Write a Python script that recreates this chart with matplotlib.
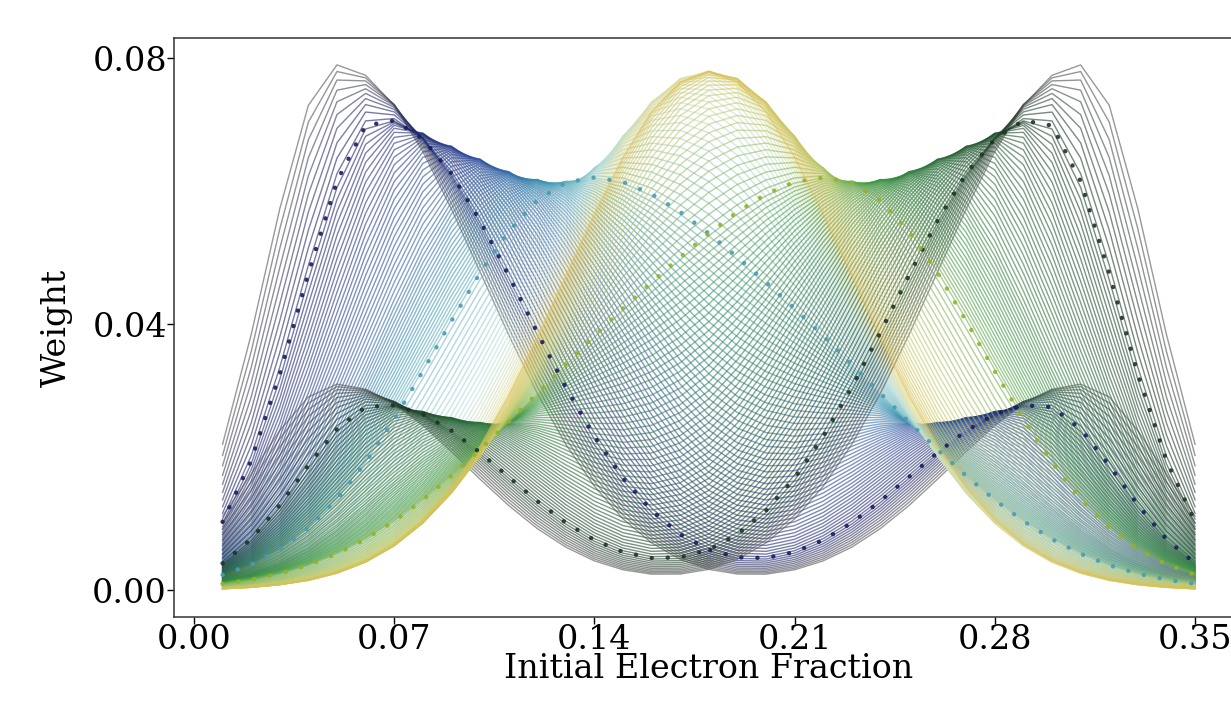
import numpy as np
import matplotlib
matplotlib.use("Agg")
import matplotlib.pyplot as plt
from matplotlib.colors import LinearSegmentedColormap

# electron-fraction grid
ye = np.round(np.arange(1, 36) * 0.01, 2)

# shape of the left-heavy family at a few stages
# (the right-heavy family is its mirror image about Ye = 0.18)
key_t = [0.0, 0.12, 0.45, 0.70, 1.0]
tall_centre = [0.050, 0.065, 0.105, 0.132, 0.180]
tall_height = [0.079, 0.071, 0.063, 0.059, 0.052]
tall_sig_out = [0.025, 0.028, 0.040, 0.048, 0.050]
tall_sig_in = [0.050, 0.050, 0.052, 0.055, 0.050]
small_centre = [0.310, 0.295, 0.255, 0.225, 0.180]
small_height = [0.031, 0.028, 0.024, 0.022, 0.026]
small_sig_out = [0.028, 0.028, 0.040, 0.050, 0.050]
small_sig_in = [0.045, 0.045, 0.045, 0.045, 0.050]

dotted_t = [0.12, 0.70]
n_lines = 80

stops = [0.0, 0.1, 0.35, 0.6, 0.85, 1.0]
colors_left = ["#555555", "#1c2166", "#2f4f9e", "#3a97b2", "#b9e0dc", "#e9dc8e"]
colors_right = ["#555555", "#1c3a28", "#2b6e3c", "#3f9a45", "#c4cc6a", "#d9c158"]
dot_left = ["#1a1e5c", "#4a9bb2"]
dot_right = ["#1e3327", "#93b32a"]


def split_gauss(x, c, s_lo, s_hi):
    s = np.where(x < c, s_lo, s_hi)
    return np.exp(-0.5 * ((x - c) / s) ** 2)


def member(t):
    p = lambda arr: np.interp(t, key_t, arr)
    tall = p(tall_height) * split_gauss(ye, p(tall_centre), p(tall_sig_out), p(tall_sig_in))
    small = p(small_height) * split_gauss(ye, p(small_centre), p(small_sig_in), p(small_sig_out))
    return tall + small


cmap_l = LinearSegmentedColormap.from_list("left", list(zip(stops, colors_left)))
cmap_r = LinearSegmentedColormap.from_list("right", list(zip(stops, colors_right)))

plt.rcParams['font.family'] = 'DejaVu Serif'
fig = plt.figure(figsize=(12.31, 7.04), dpi=100)
ax = fig.add_axes([0.1413, 0.1236, 0.869, 0.822])

ts = np.linspace(0, 1, n_lines)
for t in ts:
    ax.plot(ye, member(t), color=cmap_l(t), lw=1.0, alpha=0.6)
for t in ts:
    ax.plot(ye, member(t)[::-1], color=cmap_r(t), lw=1.0, alpha=0.6)

for t, cl, cr in zip(dotted_t, dot_left, dot_right):
    ax.plot(ye, member(t), color=cl, lw=3.2, ls=(0, (0.01, 3.6)),
            dash_capstyle='round', alpha=0.9)
    ax.plot(ye, member(t)[::-1], color=cr, lw=3.2, ls=(0, (0.01, 3.6)),
            dash_capstyle='round', alpha=0.9)

ax.set_xlim(-0.007, 0.367)
ax.set_ylim(-0.004, 0.083)
ax.set_xticks([0.0, 0.07, 0.14, 0.21, 0.28, 0.35])
ax.set_yticks([0.0, 0.04, 0.08])
ax.xaxis.set_major_formatter(plt.FormatStrFormatter('%.2f'))
ax.yaxis.set_major_formatter(plt.FormatStrFormatter('%.2f'))
ax.tick_params(labelsize=24, length=5, width=1, pad=0)
ax.set_xlabel('Initial Electron Fraction', fontsize=24, labelpad=-2)
ax.set_ylabel('Weight', fontsize=24, labelpad=14)
for s in ax.spines.values():
    s.set_color('#333333')
    s.set_linewidth(1.1)

fig.savefig('out.png', dpi=100)
